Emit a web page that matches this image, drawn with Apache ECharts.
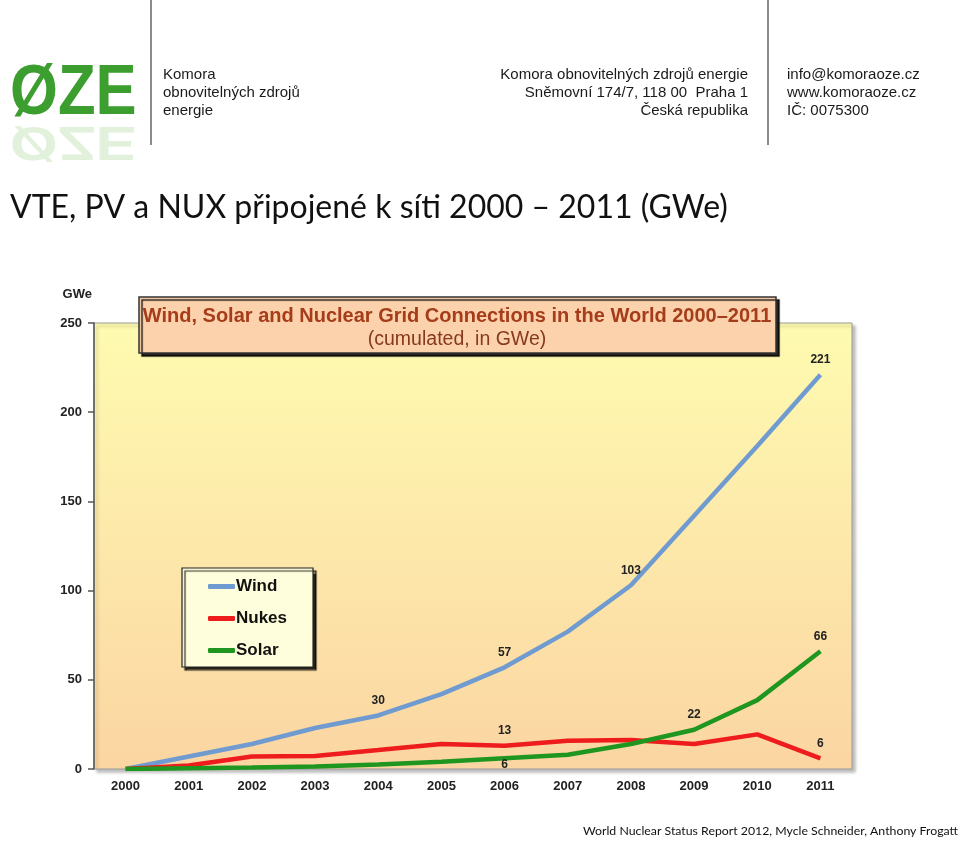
<!DOCTYPE html>
<html>
<head>
<meta charset="utf-8">
<style>
html,body{margin:0;padding:0;background:#fff;}
#chart{width:960px;height:841px;}
</style>
<script src="https://cdn.jsdelivr.net/npm/echarts@6/dist/echarts.min.js"></script>
</head>
<body>
<div id="chart"></div>
<script>
// ---- data ----
var years = ['2000','2001','2002','2003','2004','2005','2006','2007','2008','2009','2010','2011'];
var wind  = [0, 7, 14, 23, 30, 42, 57, 77, 103, 142, 181, 221];
var nukes = [0, 2, 7, 7.3, 10.6, 14, 13, 15.8, 16.2, 14, 19.4, 6];
var solar = [0, 0.4, 0.8, 1.4, 2.5, 4, 6, 8, 14, 22, 38.6, 66];
var windLabeled  = [4, 6, 8, 11];
var nukesLabeled = [6, 11];
var solarLabeled = [6, 9, 11];
var solarBelow   = [6];
var yTicks = [0, 50, 100, 150, 200, 250];

var chart = echarts.init(document.getElementById('chart'), null, {renderer:'canvas'});

function buildData(values, labeled, below) {
  return values.map(function (v, i) {
    if (labeled.indexOf(i) < 0) return v;
    var lbl = { show: true, formatter: String(Math.round(v)) };
    if (below && below.indexOf(i) >= 0) { lbl.position = 'bottom'; lbl.distance = 0; }
    return { value: v, label: lbl };
  });
}

var labelStyle = { show: false, position: 'top', distance: 9, fontFamily: 'Liberation Sans, Arial', fontWeight: 'bold', fontSize: 12, color: '#222' };

var headerFont = '"Liberation Sans", Arial';
var headerColor = '#1a1a1a';

function lineSeries(name, values, labeled, below, color, z) {
  return {
    name: name, type: 'line', data: buildData(values, labeled, below),
    symbol: 'circle', symbolSize: 0.1, showSymbol: true, z: z,
    lineStyle: { color: color, width: 4.5 }, itemStyle: { color: color },
    label: labelStyle, emphasis: { disabled: true }
  };
}

var option = {
  animation: false,
  backgroundColor: '#ffffff',
  grid: {
    left: 94, right: 108, top: 323, bottom: 72,
    show: true,
    borderColor: '#9a9a9a', borderWidth: 1,
    backgroundColor: { type: 'linear', x: 0, y: 0, x2: 0, y2: 1,
      colorStops: [{ offset: 0, color: '#fefbb0' }, { offset: 0.5, color: '#fde8aa' }, { offset: 1, color: '#fbd5a2' }] },
    shadowColor: 'rgba(0,0,0,0.25)', shadowBlur: 3, shadowOffsetX: 3, shadowOffsetY: 3
  },
  xAxis: {
    type: 'category', data: years, boundaryGap: true,
    axisLine: { show: false }, axisTick: { show: false },
    axisLabel: { margin: 11, fontFamily: 'Liberation Sans, Arial', fontWeight: 'bold', fontSize: 13, color: '#222' },
    splitLine: { show: false }
  },
  yAxis: {
    type: 'value', min: yTicks[0], max: yTicks[yTicks.length - 1], interval: 50,
    name: 'GWe', nameLocation: 'end', nameGap: 22,
    nameTextStyle: { align: 'right', fontFamily: 'Liberation Sans, Arial', fontWeight: 'bold', fontSize: 13, color: '#222', padding: [0, 2, 0, 0] },
    axisLine: { show: true, lineStyle: { color: '#555', width: 1.5 } },
    axisTick: { show: true, inside: false, length: 6, lineStyle: { color: '#555', width: 1.5 } },
    axisLabel: { margin: 12, fontFamily: 'Liberation Sans, Arial', fontWeight: 'bold', fontSize: 13, color: '#222' },
    splitLine: { show: false }
  },
  legend: {
    orient: 'vertical', left: 182, top: 568,
    data: ['Wind', 'Nukes', 'Solar'],
    icon: 'roundRect', itemWidth: 27, itemHeight: 5, itemGap: 15,
    padding: [10, 26, 8, 26],
    backgroundColor: '#fefedc', borderColor: '#222', borderWidth: 1.2,
    shadowColor: 'rgba(0,0,0,0.85)', shadowBlur: 1, shadowOffsetX: 3, shadowOffsetY: 3,
    textStyle: { fontFamily: 'Liberation Sans, Arial', fontWeight: 'bold', fontSize: 17, color: '#111', padding: [0, 0, 0, -4], lineHeight: 16 }
  },
  series: [
    lineSeries('Wind', wind, windLabeled, null, '#6f9bd0', 2),
    lineSeries('Nukes', nukes, nukesLabeled, null, '#ee1c1c', 3),
    lineSeries('Solar', solar, solarLabeled, solarBelow, '#1f961f', 4)
  ],
  graphic: [
    // header separators
    { type: 'line', shape: { x1: 151, y1: 0, x2: 151, y2: 145 }, style: { stroke: '#666', lineWidth: 1.5 } },
    { type: 'line', shape: { x1: 768, y1: 0, x2: 768, y2: 145 }, style: { stroke: '#666', lineWidth: 1.5 } },
    // logo
    { type: 'text', x: 10, y: 122, scaleX: 0.88, style: { x: 0, y: -27, text: 'ØZE', font: 'bold 70px "Liberation Sans", Arial', fill: '#3b9e2e', verticalAlign: 'middle' } },
    { type: 'text', x: 10, y: 122, scaleX: 0.88, scaleY: -0.7, style: { x: 0, y: -27, text: 'ØZE', font: 'bold 70px "Liberation Sans", Arial', fill: '#a9d79a', opacity: 0.35, verticalAlign: 'middle' } },
    // left header text
    { type: 'text', x: 163, y: 66, style: { text: 'Komora\nobnovitelných zdrojů\nenergie', font: '15px ' + headerFont, fill: headerColor, lineHeight: 18 } },
    // middle header text
    { type: 'text', x: 748, y: 66, style: { text: 'Komora obnovitelných zdrojů energie\nSněmovní 174/7, 118 00  Praha 1\nČeská republika', font: '15px ' + headerFont, fill: headerColor, lineHeight: 18, align: 'right' } },
    // right header text
    { type: 'text', x: 787, y: 66, style: { text: 'info@komoraoze.cz\nwww.komoraoze.cz\nIČ: 0075300', font: '15px ' + headerFont, fill: headerColor, lineHeight: 18 } },
    // slide title
    { type: 'text', x: 10, y: 192, style: { text: 'VTE, PV a NUX připojené k síti 2000 – 2011 (GWe)', font: '32px Lato, "Open Sans", sans-serif', fill: '#111' } },
    // chart title box
    { type: 'rect', shape: { x: 139, y: 297, width: 637, height: 56 }, z: 10,
      style: { fill: '#fcd2ad', stroke: '#333', lineWidth: 1.5, shadowColor: 'rgba(0,0,0,0.85)', shadowBlur: 1, shadowOffsetX: 3, shadowOffsetY: 3 } },
    { type: 'text', x: 457, y: 316, z: 11, style: { text: 'Wind, Solar and Nuclear Grid Connections in the World 2000–2011', font: 'bold 20px "Liberation Sans", Arial', fill: '#a53c1a', align: 'center', verticalAlign: 'middle' } },
    { type: 'text', x: 457, y: 340, z: 11, style: { text: '(cumulated, in GWe)', font: '19.5px "Liberation Sans", Arial', fill: '#86391c', align: 'center', verticalAlign: 'middle' } },
    // footer
    { type: 'text', x: 958, y: 825, style: { text: 'World Nuclear Status Report 2012, Mycle Schneider, Anthony Frogatt', font: '12.3px Lato, "Open Sans", sans-serif', fill: '#111', align: 'right' } }
  ]
};
chart.setOption(option);
</script>
</body>
</html>
